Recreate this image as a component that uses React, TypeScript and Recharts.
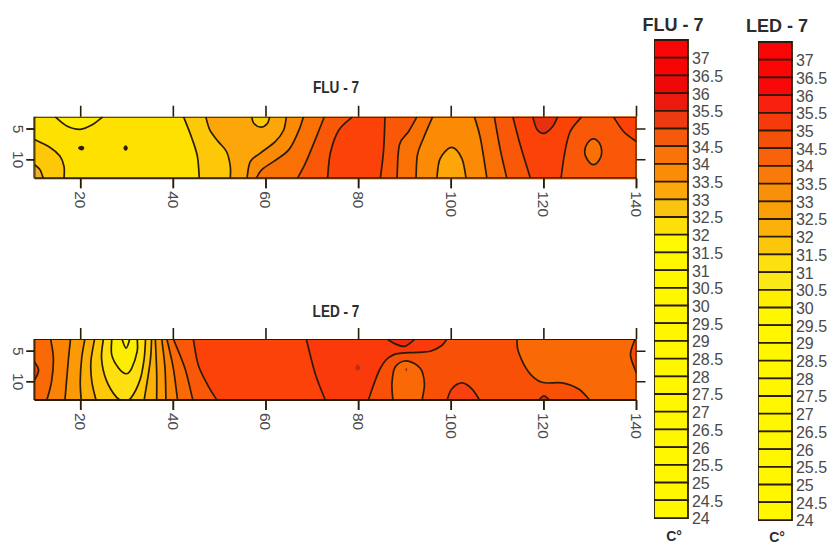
import React from "react";
import { ScatterChart, Scatter, XAxis, YAxis, BarChart, Bar, Cell } from "recharts";

type Pt = [number, number];
type Region = { line: Pt[]; close?: Pt[]; closed?: boolean; fill: string; sw?: number };

const xTicks = [20, 40, 60, 80, 100, 120, 140];
const yTicks = [5, 10];
const RIGHT: Pt[] = [[140, 13], [140, 3]];
const frame: Pt[] = [[10, 3], [140, 3], [140, 13], [10, 13], [10, 3]];

const Y0 = "#ffe100", Y1 = "#fdc808", O1 = "#fca60a", O2 = "#fb8a05", O3 = "#f97005", O4 = "#f95808", R1 = "#fb4208";

const fluContours: Region[] = [
  { fill: Y0, line: [[10, 3], [10, 13]], close: RIGHT, sw: 0 },
  { fill: "#ffec00", line: [[14.46, 3], [17, 4.5], [19.9, 5.05], [22.4, 4.35], [24.8, 3]] },
  { fill: Y1, line: [[10, 6.7], [13.4, 8], [15.5, 9.4], [16.4, 11.1], [16.4, 13]], close: [[10, 13]] },
  { fill: "#eeb030", line: [[10, 10.8], [11.2, 11.6], [11.9, 13]], close: [[10, 13]] },
  { fill: "#222", closed: true, line: [[19.6, 8.1], [20.2, 7.85], [20.6, 8.1], [20.2, 8.35]] },
  { fill: "#222", closed: true, line: [[29.4, 8.1], [29.7, 7.8], [30, 8.1], [29.7, 8.4]] },
  { fill: Y1, line: [[42.2, 3], [44, 6.5], [45.2, 9.5], [45.6, 13]], close: RIGHT },
  { fill: O1, line: [[47, 3], [47.9, 5.2], [49.7, 7.05], [51.5, 8.7], [52.3, 11.1], [52.3, 13]], close: RIGHT },
  { fill: Y1, line: [[56.9, 3], [57.4, 4.1], [58.9, 4.7], [60.3, 4.1], [60.8, 3]] },
  { fill: O2, line: [[64.4, 3], [63.8, 5.2], [62, 7.05], [58.7, 8.95], [56.6, 10.3], [55.9, 13]], close: RIGHT },
  { fill: O3, line: [[68.1, 3], [67, 5.4], [64.9, 8.4], [61.6, 10.3], [59.1, 11.6], [57.9, 13]], close: RIGHT },
  { fill: O4, line: [[72.6, 3], [70.6, 6.8], [68.5, 10.6], [66.8, 13]], close: RIGHT },
  { fill: R1, line: [[78.7, 3], [75.7, 5.2], [73.9, 8.9], [73.3, 13]], close: RIGHT },
  { fill: O4, line: [[85.7, 3], [85.4, 8.4], [84.7, 13]], close: RIGHT },
  { fill: O3, line: [[92.6, 3], [90.8, 5.4], [88.8, 7.6], [88.3, 13]], close: RIGHT },
  { fill: O2, line: [[96, 3], [94, 6.5], [92.7, 9.2], [92.4, 13]], close: RIGHT },
  { fill: O1, line: [[96.9, 13], [97.6, 9.8], [100.1, 8], [102.3, 9.8], [103.2, 13]] },
  { fill: O3, line: [[105, 3], [106.3, 6.5], [107.7, 13]], close: RIGHT },
  { fill: O4, line: [[109.3, 3], [110.6, 8.4], [112, 13]], close: RIGHT },
  { fill: R1, line: [[113.3, 3], [114.9, 7.6], [117.1, 13]], close: RIGHT },
  { fill: "#e8300e", line: [[117.6, 3], [118.5, 5.05], [120.1, 5.7], [121.9, 4.6], [123, 3]] },
  { fill: O4, line: [[128.2, 3], [125.7, 5.4], [124.5, 8.9], [123.7, 13]], close: RIGHT },
  { fill: O3, closed: true, line: [[130.7, 6.6], [132, 7.3], [132.5, 8.7], [132, 10], [130.7, 10.8], [129.4, 10], [128.8, 8.7], [129.4, 7.3]] },
  { fill: R1, line: [[135, 3], [137.2, 5.4], [140, 7.05]], close: [[140, 3]] },
];

const ledContours: Region[] = [
  { fill: "#f96a06", line: [[10, 3], [10, 13]], close: RIGHT, sw: 0 },
  { fill: "#f55008", line: [[10, 6.7], [10.9, 8.1], [10.1, 9.7]] },
  { fill: "#fa8205", line: [[13.5, 3], [14.1, 6.2], [13.7, 10], [12.7, 13]], close: RIGHT },
  { fill: "#fb9a06", line: [[17.8, 3], [17.3, 6.7], [16.6, 13]], close: RIGHT },
  { fill: "#fbb008", line: [[20.9, 3], [20.2, 6.2], [19.9, 10], [20.1, 13]], close: RIGHT },
  { fill: Y1, line: [[23, 3], [22.2, 6.7], [22.4, 10], [23.3, 13]], close: RIGHT },
  { fill: "#fee010", line: [[24.9, 3], [24.5, 6.2], [25.5, 9.7], [27.8, 12.6], [29.4, 13], [30.8, 12.7], [32.8, 9.7], [33.7, 6.2], [34, 3]] },
  { fill: "#fcee00", line: [[26.7, 3], [26.7, 5.6], [28.2, 7.8], [29.8, 8.7], [31, 7.8], [32.2, 5], [32.2, 3]] },
  { fill: "#fff600", line: [[28.9, 3], [29.8, 4.5], [30.6, 3]] },
  { fill: "#fbb008", line: [[35.3, 3], [35, 6.7], [33.7, 13]], close: RIGHT },
  { fill: "#fb9a06", line: [[36.1, 3], [36.4, 8.4], [36.4, 13]], close: RIGHT },
  { fill: "#fa8205", line: [[37.5, 3], [38.2, 7.8], [38.4, 13]], close: RIGHT },
  { fill: "#f96a06", line: [[38.6, 3], [40, 7.8], [40.9, 13]], close: RIGHT },
  { fill: "#f95808", line: [[40, 3], [42.5, 7.8], [44.2, 13]], close: RIGHT },
  { fill: "#fb4208", line: [[44.3, 3], [45.4, 7.3], [47.6, 10.8], [49.4, 13]], close: RIGHT },
  { fill: "#fa3a0a", line: [[68.7, 3], [70.6, 8.6], [72.8, 13]], close: RIGHT },
  { fill: "#b8301a", closed: true, line: [[79.3, 7.7], [79.8, 7.2], [80.3, 7.7], [79.8, 8.2]], sw: 0 },
  { fill: "#f95008", line: [[99.1, 3], [97.9, 4.1], [95.5, 5], [92.6, 5.2], [87.5, 5.6], [84.7, 7.8], [82.1, 13]], close: RIGHT },
  { fill: "#f02a0c", line: [[86.1, 3], [87.9, 3.8], [90, 4.2], [92.2, 3]] },
  { fill: "#f96a06", line: [[87.4, 13], [87.2, 10.3], [87.9, 7.6], [90.4, 6.6], [93.3, 7.8], [94.2, 10.3], [93.7, 13]] },
  { fill: "#a03010", closed: true, line: [[90.1, 8], [90.3, 7.7], [90.5, 8], [90.3, 8.3]], sw: 0 },
  { fill: "#f84010", line: [[99.1, 13], [100.1, 11.2], [102.3, 10.2], [104.5, 11.2], [106.1, 13]] },
  { fill: "#f96a06", line: [[114.2, 3], [114.5, 5.1], [116.7, 8.4], [119.6, 10.1], [123.9, 10.2], [127.5, 11.2], [129.9, 13]], close: RIGHT },
  { fill: "#d8300c", line: [[118.9, 13], [120, 12.3], [121.2, 13]] },
  { fill: "#f84a0a", line: [[139.7, 3], [138.7, 5.6], [140, 8.6]], close: [[140, 3]] },
];

const levels = ["37", "36.5", "36", "35.5", "35", "34.5", "34", "33.5", "33", "32.5", "32", "31.5", "31", "30.5", "30", "29.5", "29", "28.5", "28", "27.5", "27", "26.5", "26", "25.5", "25", "24.5", "24"];
const Y = "#fff700";
const fluColors = ["#f60606", "#f70404", "#f00808", "#ec1a0e", "#ee3a10", "#f45a0a", "#f87408", "#fa8c06", "#fca80a", "#fbc40e", "#fde00a", "#fef800", Y, Y, Y, Y, Y, Y, Y, Y, Y, Y, Y, Y, Y, Y, Y];
const ledColors = ["#fa0505", "#fb0505", "#f80808", "#f92010", "#f53a0c", "#f5500a", "#f8620a", "#f97a0a", "#f9900a", "#f9a008", "#fbb00a", "#fcc60c", "#fde010", "#fbe818", "#fcf000", Y, Y, Y, Y, Y, Y, Y, Y, Y, Y, Y, Y];

const INK = "#2a1c08";
const LABEL = "#4a4a4a";
const FONT = "'Liberation Sans', Arial, sans-serif";

function smooth(p: { x: number; y: number }[], closed: boolean) {
  const n = p.length;
  if (n === 0) return "";
  let d = `M${p[0].x},${p[0].y}`;
  const last = closed ? n : n - 1;
  for (let i = 0; i < last; i++) {
    const at = (k: number) => (closed ? p[(k + n) % n] : p[Math.max(0, Math.min(n - 1, k))]);
    const a = at(i - 1), b = at(i), c = at(i + 1), e = at(i + 2);
    d += `C${b.x + (c.x - a.x) / 6},${b.y + (c.y - a.y) / 6} ${c.x - (e.x - b.x) / 6},${c.y - (e.y - b.y) / 6} ${c.x},${c.y}`;
  }
  return closed ? d + "Z" : d;
}

const regionLine = (r: Region) => (props: any) => {
  const pts = props.points as { x: number; y: number }[];
  const body = pts.slice(0, r.line.length);
  const curve = smooth(body, !!r.closed);
  const tail = pts.slice(r.line.length).map((q) => `L${q.x},${q.y}`).join("");
  return (
    <g>
      <path d={r.closed ? curve : curve + tail + "Z"} fill={r.fill} stroke="none" />
      {r.sw === 0 ? null : <path d={curve} fill="none" stroke={INK} strokeWidth={r.sw ?? 1.7} />}
    </g>
  );
};

const toRows = (pts: Pt[]) => pts.map(([x, y]) => ({ x, y }));
const noDot = () => <g />;

const xLabel = ({ x, y, payload }: any) => (
  <text x={x} y={y} transform={`rotate(90 ${x} ${y})`} textAnchor="start" dominantBaseline="central" fontSize={15.5} fill={LABEL} fontFamily={FONT}>
    {payload.value}
  </text>
);
const yLabel = ({ x, y, payload }: any) => (
  <text x={x - 8} y={y} transform={`rotate(90 ${x - 8} ${y})`} textAnchor="middle" dominantBaseline="central" fontSize={15.5} fill={LABEL} fontFamily={FONT}>
    {payload.value}
  </text>
);

function Contour({ regions, top, plotTop, plotH }: { regions: Region[]; top: number; plotTop: number; plotH: number }) {
  const H = 150;
  const W = 680;
  const plotLeft = 34.4;
  const plotRight = 636.5;
  const pad = 13;
  const pxX = (plotRight - plotLeft) / 130;
  const pxY = plotH / 10;
  const tickStyle = { stroke: INK, strokeWidth: 1.5 };
  const axisStyle = { stroke: INK, strokeWidth: 2 };
  const marks: Pt[][] = [
    ...xTicks.map((v): Pt[] => [[v, 3], [v, 3 - 11 / pxY]]),
    ...xTicks.map((v): Pt[] => [[v, 13], [v, 13 + 10 / pxY]]),
    ...yTicks.map((v): Pt[] => [[10, v], [10 - 8 / pxX, v]]),
    ...yTicks.map((v): Pt[] => [[140, v], [140 + 9 / pxX, v]]),
  ];
  return (
    <div style={{ position: "absolute", left: 0, top, width: W, height: H }}>
      <div style={{ position: "absolute", left: 0, top: 0 }}>
        <ScatterChart width={W} height={H} margin={{ left: plotLeft - 1, right: W - plotRight, top: plotTop - top, bottom: H - (plotTop - top) - plotH - 1 }}>
          <XAxis type="number" dataKey="x" domain={[10, 140]} ticks={xTicks} height={1} tickSize={10} tickMargin={3} tick={xLabel} tickLine={tickStyle} axisLine={axisStyle} allowDataOverflow />
          <YAxis type="number" dataKey="y" domain={[3, 13]} reversed ticks={yTicks} width={1} tickSize={8} tickMargin={0} tick={yLabel} tickLine={tickStyle} axisLine={axisStyle} allowDataOverflow />
          {regions.map((r, i) => (
            <Scatter key={i} data={toRows([...r.line, ...(r.close ?? [])])} line={regionLine(r)} shape={noDot} isAnimationActive={false} />
          ))}
          <Scatter data={toRows(frame)} line={{ stroke: INK, strokeWidth: 2 }} shape={noDot} fill="none" isAnimationActive={false} />
        </ScatterChart>
      </div>
      <div style={{ position: "absolute", left: 0, top: 0 }}>
        <ScatterChart width={W} height={H} margin={{ left: plotLeft - pad, right: W - plotRight - pad, top: plotTop - top - pad, bottom: H - (plotTop - top) - plotH - pad }}>
          <XAxis type="number" dataKey="x" domain={[10 - pad / pxX, 140 + pad / pxX]} hide allowDataOverflow />
          <YAxis type="number" dataKey="y" domain={[3 - pad / pxY, 13 + pad / pxY]} reversed hide allowDataOverflow />
          {marks.map((m, i) => (
            <Scatter key={i} data={toRows(m)} line={{ stroke: INK, strokeWidth: 1.6 }} shape={noDot} fill="none" isAnimationActive={false} />
          ))}
        </ScatterChart>
      </div>
    </div>
  );
}

function ColorBar({ colors, left, top }: { colors: string[]; left: number; top: number }) {
  const rows = levels.map((label) => ({ label, span: 1 }));
  const band = 17.7;
  const tick = ({ x, y, payload }: any) => (
    <text x={x - 4} y={y + band / 2 + 1} dominantBaseline="central" textAnchor="start" fontSize={16} fill={LABEL} fontFamily={FONT}>
      {payload.value}
    </text>
  );
  return (
    <div style={{ position: "absolute", left, top: top - 10 }}>
      <BarChart width={90} height={band * 27 + 30} layout="vertical" data={rows} barCategoryGap={0} margin={{ left: 0, right: 55, top: 10, bottom: 20 }}>
        <XAxis type="number" domain={[0, 1]} hide />
        <YAxis type="category" dataKey="label" orientation="right" width={1} interval={0} axisLine={false} tickLine={false} tick={tick} />
        <Bar dataKey="span" isAnimationActive={false} stroke={INK} strokeWidth={1.8}>
          {rows.map((r, i) => (
            <Cell key={r.label} fill={colors[i]} />
          ))}
        </Bar>
      </BarChart>
    </div>
  );
}

const Label = ({ text, cx, cy, size, sx = 1 }: { text: string; cx: number; cy: number; size: number; sx?: number }) => (
  <div style={{ position: "absolute", left: cx - 60, top: cy - 7, width: 120, height: 14, lineHeight: "14px", textAlign: "center", fontFamily: FONT, fontWeight: 700, fontSize: size, color: "#2c2c2c", transform: `scaleX(${sx})`, whiteSpace: "nowrap" }}>
    {text}
  </div>
);

export default function App() {
  return (
    <div style={{ position: "absolute", left: 0, top: 0, width: 836, height: 544, background: "#fff", overflow: "hidden" }}>
      <Label text="FLU - 7" cx={336} cy={88} size={17} sx={0.8} />
      <Label text="LED - 7" cx={336} cy={312} size={17} sx={0.8} />
      <Contour regions={fluContours} top={75} plotTop={116.7} plotH={61.5} />
      <Contour regions={ledContours} top={298} plotTop={339} plotH={61} />
      <Label text="FLU - 7" cx={673} cy={25} size={18} />
      <Label text="LED - 7" cx={777} cy={26} size={18} />
      <ColorBar colors={fluColors} left={653.5} top={40} />
      <ColorBar colors={ledColors} left={757.5} top={42} />
      <Label text="C°" cx={674} cy={536} size={14} />
      <Label text="C°" cx={777} cy={536.5} size={14} />
    </div>
  );
}
